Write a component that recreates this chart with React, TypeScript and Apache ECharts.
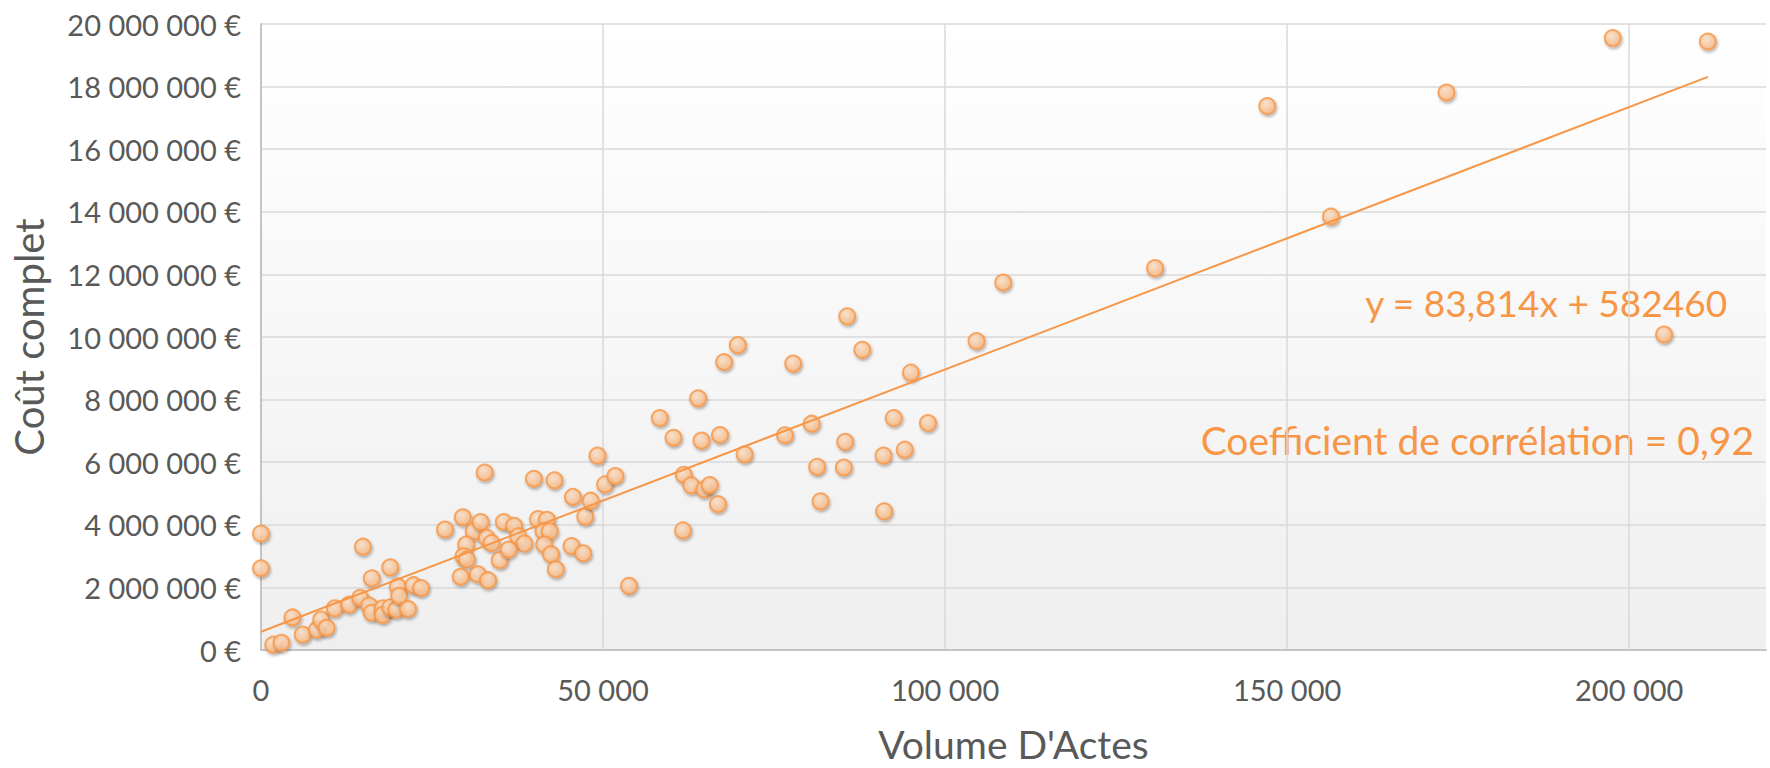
import React, { useEffect, useRef } from "react";
import * as echarts from "echarts";

// Volume d'actes (x) and coût complet (y, €) for each establishment
const volumeActes: number[] = [
  0, 0, 1800, 3000, 4600, 6100, 8200, 8800, 9600, 10800,
  12900, 14500, 14900, 15800, 16200, 16200, 17800, 17800, 18900, 18900,
  19800, 20000, 20200, 21500, 22300, 23400,
  26900, 29500, 31100, 32100, 32700, 30000, 29600, 30100, 29200, 31700,
  33200, 33000, 33700, 34900, 35500, 37000, 37600, 38500, 36200, 39900,
  40500, 41800, 41300, 42200, 41400, 42400, 42900, 43100, 45600, 45400,
  47100, 47400, 48200, 49200, 50300, 51800, 53800,
  58300, 60300, 61700, 61800, 62900, 63900, 64400, 64800, 65600, 66800,
  67100, 67700, 69700, 70700, 76600, 77800, 80500, 81300, 81800, 85200,
  85400, 85700, 87900, 91000, 91100, 92500, 94100, 95000, 97500, 104600,
  108500, 130700, 147100, 156400, 173300, 197600, 205100, 211500,
];

const coutComplet: number[] = [
  3720000, 2610000, 170000, 230000, 1040000, 490000, 650000, 970000, 710000, 1330000,
  1450000, 1670000, 3300000, 1420000, 2290000, 1190000, 1330000, 1120000, 2640000, 1360000,
  1290000, 2030000, 1730000, 1310000, 2070000, 1980000,
  3850000, 4240000, 3790000, 4090000, 5670000, 3370000, 2990000, 2890000, 2340000, 2420000,
  2230000, 3580000, 3420000, 2870000, 4090000, 3970000, 3630000, 3400000, 3210000, 5470000,
  4180000, 4160000, 3790000, 3790000, 3370000, 3060000, 5420000, 2580000, 4890000, 3320000,
  3090000, 4260000, 4770000, 6210000, 5290000, 5560000, 2050000,
  7410000, 6780000, 3820000, 5600000, 5260000, 8040000, 6690000, 5130000, 5270000, 4660000,
  6870000, 9200000, 9740000, 6250000, 6860000, 9150000, 7230000, 5850000, 4750000, 5830000,
  6650000, 10660000, 9590000, 6210000, 4430000, 7410000, 6400000, 8860000, 7250000, 9870000,
  11740000, 12200000, 17380000, 13850000, 17810000, 19550000, 10080000, 19440000,
];

// Linear trend line shown on the chart
const trendSlope = 83.814;
const trendIntercept = 582460;
const equationLabel = "y = 83,814x + 582460";
const correlationLabel = "Coefficient de corrélation = 0,92";

// Axes
const xMin = 0;
const xMax = 220000;
const xInterval = 50000;
const yMin = 0;
const yMax = 20000000;
const yInterval = 2000000;
const xAxisTitle = "Volume D'Actes";
const yAxisTitle = "Coût complet";

const FONT = "Lato, 'Open Sans', 'Noto Sans', sans-serif";
const ORANGE = "#f79646";
const GREY_TEXT = "#595959";

function groupThousands(v: number): string {
  return Math.round(v)
    .toString()
    .replace(/\B(?=(\d{3})+(?!\d))/g, " ");
}

export default function App() {
  const ref = useRef<HTMLDivElement | null>(null);

  useEffect(() => {
    document.body.style.margin = "0";
    if (!ref.current) return;
    const chart = echarts.init(ref.current, undefined, { renderer: "svg" });

    const points = volumeActes.map((x, i) => [x, coutComplet[i]]);
    const maxX = Math.max(...volumeActes);
    const trend = [
      [0, trendIntercept],
      [maxX, trendSlope * maxX + trendIntercept],
    ];

    chart.setOption({
      animation: false,
      backgroundColor: "#ffffff",
      grid: {
        left: 261,
        right: 4,
        top: 24,
        bottom: 113,
        show: true,
        borderWidth: 0,
        backgroundColor: {
          type: "linear",
          x: 0,
          y: 0,
          x2: 0,
          y2: 1,
          colorStops: [
            { offset: 0, color: "#ffffff" },
            { offset: 1, color: "#efefef" },
          ],
        },
      },
      xAxis: {
        type: "value",
        min: xMin,
        max: xMax,
        interval: xInterval,
        name: xAxisTitle,
        nameLocation: "middle",
        nameGap: 74,
        nameTextStyle: { fontFamily: FONT, fontSize: 39, color: GREY_TEXT },
        axisLine: { show: true, lineStyle: { color: "#c4c4c4", width: 2 } },
        axisTick: { show: false },
        splitLine: {
          show: true,
          showMaxLine: false,
          lineStyle: { color: "#d9d9d9", width: 1.5 },
        },
        axisLabel: {
          margin: 25,
          fontFamily: FONT,
          fontSize: 29,
          color: GREY_TEXT,
          showMaxLabel: false,
          formatter: (v: number) => (v % xInterval === 0 ? groupThousands(v) : ""),
        },
      },
      yAxis: {
        type: "value",
        min: yMin,
        max: yMax,
        interval: yInterval,
        name: yAxisTitle,
        nameLocation: "middle",
        nameGap: 212,
        nameTextStyle: { fontFamily: FONT, fontSize: 40, color: GREY_TEXT },
        axisLine: { show: true, lineStyle: { color: "#c4c4c4", width: 2 } },
        axisTick: { show: false },
        splitLine: { show: true, lineStyle: { color: "#d9d9d9", width: 1.5 } },
        axisLabel: {
          margin: 20,
          fontFamily: FONT,
          fontSize: 29,
          color: GREY_TEXT,
          formatter: (v: number) => groupThousands(v) + " €",
        },
      },
      series: [
        {
          type: "scatter",
          data: points,
          symbol: "circle",
          symbolSize: 16,
          z: 2,
          itemStyle: {
            color: {
              type: "radial",
              x: 0.4,
              y: 0.35,
              r: 0.75,
              colorStops: [
                { offset: 0, color: "#fee4cc" },
                { offset: 1, color: "#fbb072" },
              ],
            },
            borderColor: ORANGE,
            borderWidth: 2,
            shadowBlur: 3,
            shadowColor: "rgba(0,0,0,0.35)",
            shadowOffsetX: 1,
            shadowOffsetY: 2,
          },
        },
        {
          type: "line",
          data: trend,
          symbol: "none",
          silent: true,
          z: 3,
          lineStyle: { color: ORANGE, width: 2 },
        },
      ],
      graphic: [
        {
          type: "text",
          right: 42,
          top: 284,
          style: {
            text: equationLabel,
            fontFamily: FONT,
            fontSize: 37,
            fill: ORANGE,
          },
        },
        {
          type: "text",
          right: 16,
          top: 420,
          style: {
            text: correlationLabel,
            fontFamily: FONT,
            fontSize: 39,
            fill: ORANGE,
          },
        },
      ],
    });

    return () => {
      chart.dispose();
    };
  }, []);

  return <div ref={ref} style={{ width: 1770, height: 768 }} />;
}
